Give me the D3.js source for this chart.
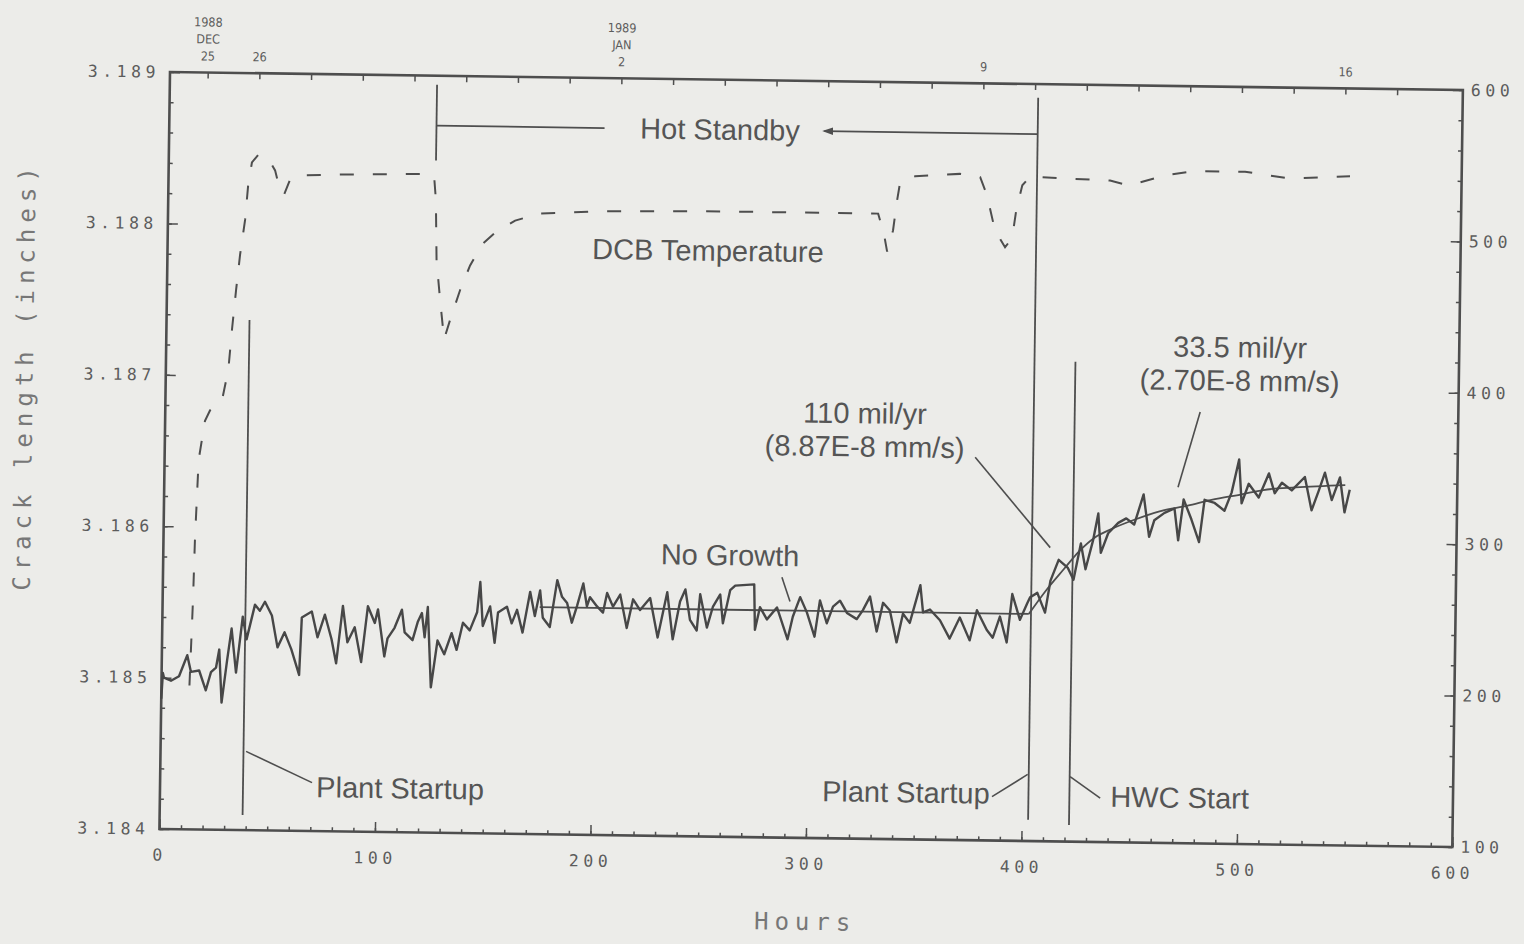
<!DOCTYPE html>
<html>
<head>
<meta charset="utf-8">
<script src="https://cdn.jsdelivr.net/npm/d3@7"></script>
<style>
  body { margin: 0; background: #ecece9; }
  svg { display: block; }
  .tick text { font-family: "DejaVu Sans Mono", monospace; font-size: 16.5px; fill: #5c5c5c; letter-spacing: 4.5px; }
  .note { font-family: "Liberation Sans", Arial, sans-serif; font-size: 29px; fill: #555; }
  .date { font-family: "DejaVu Sans Condensed", "DejaVu Sans", sans-serif; font-stretch: condensed; font-size: 12.5px; fill: #5c5c5c; }
  .title { font-family: "DejaVu Sans Mono", monospace; font-size: 24px; fill: #777; letter-spacing: 6px; }
</style>
</head>
<body>
<svg id="chart" width="1524" height="944"></svg>
<script>
// crack length trace [hours, inches]
const crackLength = [
  [0, 3.18486], [0.6, 3.18503], [1.1, 3.18500], [4.4, 3.18498], [8.1, 3.18501], [11.8, 3.18515],
  [13.6, 3.18504], [17.4, 3.18505], [20.6, 3.18492], [22.9, 3.18504], [25.2, 3.18507], [26.6, 3.18519],
  [28.0, 3.18484], [30.3, 3.18512], [32.2, 3.18533], [34.5, 3.18504], [37.3, 3.18541], [39.2, 3.18526],
  [42.9, 3.18549], [45.2, 3.18545], [47.5, 3.18551], [50.8, 3.18542], [53.6, 3.18521], [56.8, 3.18531],
  [60.0, 3.18520], [63.8, 3.18503], [64.7, 3.18541], [69.3, 3.18545], [72.1, 3.18528], [75.4, 3.18543],
  [78.6, 3.18527], [80.9, 3.18511], [83.7, 3.18549], [86.0, 3.18525], [89.3, 3.18535], [92.5, 3.18512],
  [95.3, 3.18549], [98.6, 3.18538], [100.0, 3.18547], [103.2, 3.18516], [104.6, 3.18528], [107.8, 3.18535],
  [111.1, 3.18547], [112.5, 3.18532], [116.2, 3.18527], [118.5, 3.18539], [120.4, 3.18545], [121.8, 3.18529],
  [123.1, 3.18549], [125.0, 3.18496], [127.8, 3.18527], [131.0, 3.18518], [134.3, 3.18532], [136.7, 3.18521],
  [139.5, 3.18539], [142.7, 3.18534], [146.0, 3.18546], [147.3, 3.18566], [148.7, 3.18537], [152.0, 3.18550],
  [154.3, 3.18526], [155.7, 3.18546], [159.8, 3.18550], [162.1, 3.18539], [164.5, 3.18548], [167.2, 3.18533],
  [170.5, 3.18560], [172.8, 3.18544], [175.1, 3.18561], [176.5, 3.18543], [179.8, 3.18537], [183.0, 3.18568],
  [185.3, 3.18557], [187.7, 3.18553], [190.0, 3.18540], [192.3, 3.18551], [195.1, 3.18566], [196.9, 3.18551],
  [198.3, 3.18557], [201.6, 3.18551], [204.4, 3.18547], [206.2, 3.18560], [209.0, 3.18551], [212.3, 3.18559],
  [215.5, 3.18537], [218.3, 3.18556], [221.6, 3.18549], [226.2, 3.18557], [229.9, 3.18531], [234.1, 3.18561],
  [236.9, 3.18530], [240.1, 3.18555], [242.5, 3.18563], [244.8, 3.18543], [248.0, 3.18536], [249.4, 3.18560],
  [252.7, 3.18538], [255.4, 3.18552], [258.7, 3.18560], [260.1, 3.18541], [263.3, 3.18563], [265.6, 3.18566],
  [274.4, 3.18567], [275.0, 3.18537], [277.2, 3.18552], [280.5, 3.18544], [285.1, 3.18552], [290.2, 3.18531],
  [292.5, 3.18546], [295.8, 3.18559], [299.0, 3.18549], [302.7, 3.18533], [305.0, 3.18557], [308.3, 3.18542],
  [311.1, 3.18553], [314.3, 3.18557], [317.6, 3.18549], [322.2, 3.18545], [325.0, 3.18551], [328.2, 3.18560],
  [331.5, 3.18537], [334.3, 3.18556], [337.5, 3.18551], [340.8, 3.18530], [343.6, 3.18549], [346.8, 3.18543],
  [351.5, 3.18568], [352.9, 3.18550], [356.1, 3.18552], [360.8, 3.18545], [365.4, 3.18533], [370.0, 3.18547],
  [374.7, 3.18532], [377.9, 3.18552], [382.6, 3.18539], [385.4, 3.18534], [388.6, 3.18548], [391.9, 3.18531],
  [394.2, 3.18563], [397.9, 3.18546], [401.2, 3.18557], [402.5, 3.18561], [405.8, 3.18564], [409.5, 3.18551],
  [411.8, 3.18572], [415.5, 3.18586], [419.7, 3.18581], [422.5, 3.18573], [425.7, 3.18597], [428.0, 3.18580],
  [431.3, 3.18599], [433.6, 3.18617], [435.0, 3.18591], [438.3, 3.18604], [442.9, 3.18611], [446.6, 3.18614],
  [450.3, 3.18610], [454.5, 3.18630], [457.3, 3.18602], [459.6, 3.18613], [464.3, 3.18618], [468.9, 3.18621],
  [470.8, 3.18600], [473.1, 3.18627], [476.8, 3.18614], [480.5, 3.18599], [482.8, 3.18627], [487.5, 3.18625],
  [492.1, 3.18620], [495.3, 3.18632], [498.6, 3.18654], [500.0, 3.18625], [503.2, 3.18638], [507.9, 3.18629],
  [512.5, 3.18645], [515.3, 3.18632], [518.6, 3.18639], [523.2, 3.18634], [529.2, 3.18643], [532.5, 3.18621],
  [535.7, 3.18634], [538.5, 3.18646], [541.8, 3.18628], [545.5, 3.18643], [547.8, 3.18620], [550.1, 3.18635]
];

// DCB temperature [hours, deg]
const dcbTemp = [
  [13, 195], [14.1, 252], [14.6, 291], [15.8, 344], [18.5, 370], [20.8, 377], [26.3, 384], [29.0, 404],
  [30.4, 430], [32.1, 457], [33.7, 480], [35.8, 503], [37.0, 526], [38.6, 541], [41.4, 546], [46.0, 544],
  [49.4, 536], [51.8, 523], [53.7, 520], [56.4, 530], [61.0, 533], [84.2, 534], [116.7, 535], [123.2, 534],
  [124.2, 518], [124.9, 478], [126.8, 452], [128.9, 426], [131.6, 439], [136.1, 459], [140.5, 475],
  [145.9, 489], [151.9, 497], [161.1, 505], [172.6, 510], [200.5, 512], [246.8, 513], [293.2, 513],
  [329.5, 513], [332.4, 499], [333.9, 488], [336.5, 502], [338.2, 522], [339.5, 534], [346.4, 538],
  [367.1, 540], [376.6, 538], [379.9, 526], [383.8, 503], [388.6, 492], [391.8, 498], [393.6, 517],
  [396.2, 533], [399.8, 539], [413.7, 538], [436.9, 537], [445.3, 534], [450.8, 536], [462.4, 541],
  [476.3, 544], [499.5, 544], [520.4, 540], [548.2, 542]
];

// fitted curves
const fitNoGrowth = [[175, 3.18550], [402, 3.18550]];
const fitGrowth = [
  [402, 3.18550], [410, 3.18566], [418, 3.18580], [425, 3.18592], [432, 3.18601], [440, 3.18607],
  [450, 3.18613], [462, 3.18619], [475, 3.18623], [486, 3.18627], [500, 3.18631], [510, 3.18634],
  [525, 3.18636], [548, 3.18638]
];

// event markers: hours, bottom, top (inches)
const events = [
  [38.5, 3.18410, 3.18737],
  [124, 3.18844, 3.18894],
  [403, 3.18414, 3.18891],
  [422, 3.18411, 3.18717]
];
const hotStandbyLevel = 3.18867;
const hotStandbySpans = [[124, 202], [304, 403]];

const leaders = [
  [[39.7, 3.18452], [70.5, 3.18432]],
  [[386.1, 3.18429], [402.5, 3.18444]],
  [[422.2, 3.18443], [436.3, 3.18429]],
  [[287.2, 3.18572], [291.1, 3.18556]],
  [[376.1, 3.18653], [411.5, 3.18594]],
  [[480.2, 3.18685], [470.4, 3.18635]]
];

const notes = [
  ["Hot Standby", 255.6, 3.18867, "middle"],
  ["DCB Temperature", 250.8, 3.18787, "middle"],
  ["No Growth", 263, 3.18586, "middle"],
  ["110 mil/yr", 324.7, 3.18681, "middle"],
  ["(8.87E-8 mm/s)", 324.7, 3.18659, "middle"],
  ["33.5 mil/yr", 498.3, 3.18728, "middle"],
  ["(2.70E-8 mm/s)", 498.3, 3.18706, "middle"],
  ["Plant Startup", 72.5, 3.18429, "start"],
  ["Plant Startup", 385, 3.18431, "end"],
  ["HWC Start", 441, 3.18430, "start"]
];

const hourTicks = [0, 100, 200, 300, 400, 500, 600];
const crackTicks = [3.184, 3.185, 3.186, 3.187, 3.188, 3.189];
const tempTicks = [100, 200, 300, 400, 500, 600];
const dayOffset = 17.5; // hour of 1988 DEC 25, 00:00
const dateLabels = [
  [0, ["1988", "DEC", "25"]],
  [1, ["26"]],
  [8, ["1989", "JAN", "2"]],
  [15, ["9"]],
  [22, ["16"]]
];

const W = 1293, H = 757;
const ink = "#4e4e4e";

const svg = d3.select("#chart");
svg.append("rect").attr("width", 1524).attr("height", 944).attr("fill", "#ecece9");

// the scan is tilted slightly
const g = svg.append("g").attr("transform", "translate(170,72) rotate(0.8)");

const x = d3.scaleLinear().domain([0, 600]).range([0, W]);
const y = d3.scaleLinear().domain([3.184, 3.189]).range([H, 0]);
const yT = d3.scaleLinear().domain([100, 600]).range([H, 0]);

// minor ticks
g.append("g").attr("transform", "translate(0," + H + ")")
  .call(d3.axisBottom(x).tickValues(d3.range(0, 601, 10)).tickSizeInner(-4).tickSizeOuter(0).tickFormat(""));
g.append("g")
  .call(d3.axisLeft(y).tickValues(d3.range(3.184, 3.18901, 0.0002)).tickSizeInner(-4).tickSizeOuter(0).tickFormat(""));
g.append("g").attr("transform", "translate(" + W + ",0)")
  .call(d3.axisRight(yT).tickValues(d3.range(100, 601, 20)).tickSizeInner(-4).tickSizeOuter(0).tickFormat(""));
g.append("g")
  .call(d3.axisTop(x).tickValues(d3.range(0, 24).map(i => dayOffset + i * 24)).tickSizeInner(-6).tickSizeOuter(0).tickFormat(""));

// major axes
g.append("g").attr("transform", "translate(0," + H + ")")
  .call(d3.axisBottom(x).tickValues(hourTicks).tickSizeInner(-10).tickSizeOuter(0).tickPadding(20).tickFormat(d3.format("d")));
g.append("g")
  .call(d3.axisLeft(y).tickValues(crackTicks).tickSizeInner(-10).tickSizeOuter(0).tickPadding(10).tickFormat(d3.format(".3f")));
g.append("g").attr("transform", "translate(" + W + ",0)")
  .call(d3.axisRight(yT).tickValues(tempTicks).tickSizeInner(-10).tickSizeOuter(0).tickPadding(8).tickFormat(d3.format("d")));

g.selectAll(".domain").remove();
g.selectAll(".tick line").attr("stroke", ink).attr("stroke-width", 1.5);

g.append("rect").attr("width", W).attr("height", H)
  .attr("fill", "none").attr("stroke", ink).attr("stroke-width", 2.6);

// top date labels
dateLabels.forEach(([day, lines]) => {
  const t = g.append("text").attr("class", "date").attr("text-anchor", "middle")
    .attr("x", x(dayOffset + day * 24));
  lines.slice().reverse().forEach((s, i) => {
    t.append("tspan").attr("x", x(dayOffset + day * 24)).attr("y", -12 - i * 17).text(s);
  });
});

// titles
g.append("text").attr("class", "title").attr("text-anchor", "middle").attr("dominant-baseline", "central")
  .attr("transform", "translate(-141,306) rotate(-90)").text("Crack length (inches)");
g.append("text").attr("class", "title").attr("text-anchor", "middle").attr("dominant-baseline", "central")
  .attr("x", 647).attr("y", 841).text("Hours");

// temperature
g.append("path").datum(dcbTemp)
  .attr("d", d3.line().x(d => x(d[0])).y(d => yT(d[1])))
  .attr("fill", "none").attr("stroke", ink).attr("stroke-width", 2).attr("stroke-dasharray", "14,19");

// event lines
g.selectAll(".event").data(events).enter().append("line")
  .attr("x1", d => x(d[0])).attr("x2", d => x(d[0]))
  .attr("y1", d => y(d[1])).attr("y2", d => y(d[2]))
  .attr("stroke", ink).attr("stroke-width", 1.8);

svg.append("defs").append("marker").attr("id", "arr")
  .attr("viewBox", "0 0 10 10").attr("refX", 2).attr("refY", 5)
  .attr("markerWidth", 6).attr("markerHeight", 6).attr("orient", "auto")
  .append("path").attr("d", "M0,5L10,1.5L10,8.5Z").attr("fill", ink);

hotStandbySpans.forEach((s, i) => {
  const l = g.append("line")
    .attr("x1", x(s[0])).attr("x2", x(s[1]))
    .attr("y1", y(hotStandbyLevel)).attr("y2", y(hotStandbyLevel))
    .attr("stroke", ink).attr("stroke-width", 1.8);
  if (i === 1) l.attr("marker-start", "url(#arr)");
});

g.selectAll(".leader").data(leaders).enter().append("line")
  .attr("x1", d => x(d[0][0])).attr("y1", d => y(d[0][1]))
  .attr("x2", d => x(d[1][0])).attr("y2", d => y(d[1][1]))
  .attr("stroke", ink).attr("stroke-width", 1.6);

// fits and trace
const line = d3.line().x(d => x(d[0])).y(d => y(d[1]));
g.append("path").datum(fitNoGrowth).attr("d", line)
  .attr("fill", "none").attr("stroke", ink).attr("stroke-width", 1.8);
g.append("path").datum(fitGrowth).attr("d", line.curve(d3.curveMonotoneX))
  .attr("fill", "none").attr("stroke", ink).attr("stroke-width", 1.8);
g.append("path").datum(crackLength).attr("d", d3.line().x(d => x(d[0])).y(d => y(d[1])))
  .attr("fill", "none").attr("stroke", "#474747").attr("stroke-width", 2.4).attr("stroke-linejoin", "round");

// notes
g.selectAll(".note").data(notes).enter().append("text")
  .attr("class", "note")
  .attr("x", d => x(d[1])).attr("y", d => y(d[2]))
  .attr("text-anchor", d => d[3])
  .attr("dominant-baseline", "central")
  .text(d => d[0]);
</script>
</body>
</html>
